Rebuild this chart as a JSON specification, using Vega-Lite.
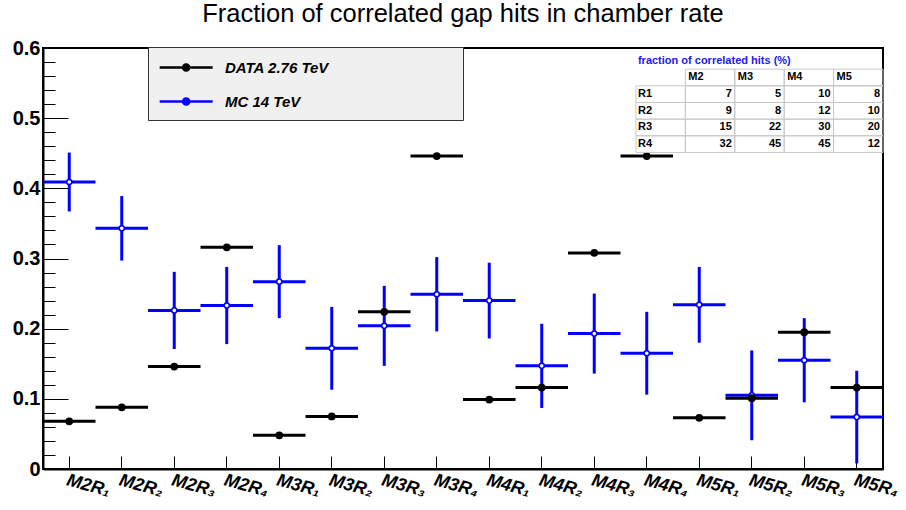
{
  "$schema": "https://vega.github.io/schema/vega-lite/v6.json",
  "width": 840,
  "height": 421,
  "autosize": {"type": "none"},
  "padding": {"left": 43, "top": 48, "right": 23, "bottom": 41},
  "background": "white",
  "title": {"text": "Fraction of correlated gap hits in chamber rate", "font": "Liberation Sans", "fontSize": 25.5, "fontWeight": "normal", "color": "#000000", "anchor": "middle", "baseline": "bottom", "offset": 20, "dy": 34},
  "config": {
    "font": "Liberation Sans",
    "view": {"stroke": "#000000", "strokeWidth": 2}
  },
  "datasets": {
    "meas": [
      {"bin": "M2R1", "data": 0.068, "mc": 0.409, "err": 0.042},
      {"bin": "M2R2", "data": 0.088, "mc": 0.343, "err": 0.046},
      {"bin": "M2R3", "data": 0.146, "mc": 0.226, "err": 0.055},
      {"bin": "M2R4", "data": 0.316, "mc": 0.233, "err": 0.055},
      {"bin": "M3R1", "data": 0.048, "mc": 0.267, "err": 0.052},
      {"bin": "M3R2", "data": 0.075, "mc": 0.172, "err": 0.059},
      {"bin": "M3R3", "data": 0.224, "mc": 0.204, "err": 0.057},
      {"bin": "M3R4", "data": 0.446, "mc": 0.249, "err": 0.053},
      {"bin": "M4R1", "data": 0.099, "mc": 0.240, "err": 0.054},
      {"bin": "M4R2", "data": 0.116, "mc": 0.147, "err": 0.060},
      {"bin": "M4R3", "data": 0.308, "mc": 0.193, "err": 0.057},
      {"bin": "M4R4", "data": 0.446, "mc": 0.165, "err": 0.059},
      {"bin": "M5R1", "data": 0.073, "mc": 0.234, "err": 0.054},
      {"bin": "M5R2", "data": 0.101, "mc": 0.105, "err": 0.064},
      {"bin": "M5R3", "data": 0.195, "mc": 0.155, "err": 0.060},
      {"bin": "M5R4", "data": 0.116, "mc": 0.074, "err": 0.066}
    ],
    "table": [
      {"row": "R1", "col": "M2", "pct": 7}, {"row": "R1", "col": "M3", "pct": 5}, {"row": "R1", "col": "M4", "pct": 10}, {"row": "R1", "col": "M5", "pct": 8},
      {"row": "R2", "col": "M2", "pct": 9}, {"row": "R2", "col": "M3", "pct": 8}, {"row": "R2", "col": "M4", "pct": 12}, {"row": "R2", "col": "M5", "pct": 10},
      {"row": "R3", "col": "M2", "pct": 15}, {"row": "R3", "col": "M3", "pct": 22}, {"row": "R3", "col": "M4", "pct": 30}, {"row": "R3", "col": "M5", "pct": 20},
      {"row": "R4", "col": "M2", "pct": 32}, {"row": "R4", "col": "M3", "pct": 45}, {"row": "R4", "col": "M4", "pct": 45}, {"row": "R4", "col": "M5", "pct": 12}
    ],
    "cols": [{"col": "M2"}, {"col": "M3"}, {"col": "M4"}, {"col": "M5"}],
    "rows": [{"row": "R1"}, {"row": "R2"}, {"row": "R3"}, {"row": "R4"}],
    "ttl": [{"t": "fraction of correlated hits (%)"}]
  },
  "layer": [
    {
      "data": {"name": "meas"},
      "layer": [
        {
          "mark": {"type": "errorbar", "ticks": false, "thickness": 3},
          "encoding": {
            "x": {"field": "bin", "type": "nominal", "sort": null, "scale": {"type": "band", "paddingInner": 0, "paddingOuter": 0}},
            "y": {"field": "mc", "type": "quantitative", "scale": {"domain": [0, 0.6], "nice": false},
              "axis": {"orient": "left", "title": null, "labels": false, "domain": false, "grid": false, "tickSize": -12, "tickColor": "#000000", "tickWidth": 1,
                "values": [0.02, 0.04, 0.06, 0.08, 0.12, 0.14, 0.16, 0.18, 0.22, 0.24, 0.26, 0.28, 0.32, 0.34, 0.36, 0.38, 0.42, 0.44, 0.46, 0.48, 0.52, 0.54, 0.56, 0.58]}},
            "yError": {"field": "err"},
            "color": {"datum": "MC 14 TeV"}
          }
        },
        {
          "mark": {"type": "tick", "size": 52.5, "thickness": 3, "opacity": 1},
          "encoding": {
            "x": {"field": "bin", "type": "nominal", "sort": null},
            "y": {"field": "mc", "type": "quantitative", "axis": null},
            "color": {"datum": "MC 14 TeV"}
          }
        },
        {
          "mark": {"type": "point", "shape": "circle", "filled": false, "fill": "white", "size": 26, "strokeWidth": 1.5, "opacity": 1},
          "encoding": {
            "x": {"field": "bin", "type": "nominal", "sort": null},
            "y": {"field": "mc", "type": "quantitative", "axis": null},
            "color": {"datum": "MC 14 TeV"}
          }
        },
        {
          "mark": {"type": "tick", "size": 52.5, "thickness": 3, "opacity": 1},
          "encoding": {
            "x": {"field": "bin", "type": "nominal", "sort": null,
              "axis": {"title": null, "tickSize": -13, "tickColor": "#000000", "tickWidth": 1, "domainColor": "#000000", "domainWidth": 2,
                "labelAngle": 15, "labelAlign": "left", "labelBaseline": "top", "labelPadding": 15, "labelOverlap": false, "labelBound": false, "labelFlush": false,
                "labelFontSize": 18, "labelFontWeight": "bold", "labelFontStyle": "italic", "labelColor": "#000000",
                "labelExpr": "substring(datum.label, 0, 3) + ['\u2081', '\u2082', '\u2083', '\u2084'][toNumber(substring(datum.label, 3, 4)) - 1]"}},
            "y": {"field": "data", "type": "quantitative",
              "axis": {"orient": "left", "title": null, "grid": false, "values": [0, 0.1, 0.2, 0.3, 0.4, 0.5, 0.6], "format": ".1~f",
                "tickSize": -25, "tickColor": "#000000", "tickWidth": 1, "domainColor": "#000000", "domainWidth": 2,
                "labelPadding": 28, "labelFontSize": 20, "labelFontWeight": "bold", "labelColor": "#000000"}},
            "color": {"datum": "DATA 2.76 TeV"}
          }
        },
        {
          "mark": {"type": "point", "shape": "circle", "filled": true, "size": 60, "opacity": 1},
          "encoding": {
            "x": {"field": "bin", "type": "nominal", "sort": null},
            "y": {"field": "data", "type": "quantitative", "axis": null},
            "color": {"datum": "DATA 2.76 TeV",
              "scale": {"domain": ["DATA 2.76 TeV", "MC 14 TeV"], "range": ["#000000", "#0000ff"]},
              "legend": {"orient": "none", "legendX": 105, "legendY": -1, "title": null,
                "fillColor": "#f0f0f0", "strokeColor": "#333333", "padding": 10,
                "symbolType": "M-1,0L5,0M1.65,0A0.35,0.35,0,1,0,2.35,0A0.35,0.35,0,1,0,1.65,0ZM31.6,0",
                "symbolSize": 312, "symbolStrokeWidth": 2.5,
                "labelFont": "Liberation Sans", "labelFontSize": 15, "labelFontWeight": "bold", "labelFontStyle": "italic", "labelColor": "#000000",
                "labelOffset": 46, "rowPadding": 15, "labelLimit": 400,
                "encode": {"symbols": {"update": {
                  "fill": {"signal": "datum.value === 'MC 14 TeV' ? 'white' : 'black'"},
                  "stroke": {"signal": "datum.value === 'MC 14 TeV' ? '#0000ff' : 'black'"},
                  "opacity": {"value": 1}, "strokeOpacity": {"value": 1}, "fillOpacity": {"value": 1}}}}}
            }
          }
        }
      ],
      "resolve": {"axis": {"y": "independent"}}
    },
    {
      "layer": [
        {
          "data": {"name": "table"},
          "mark": {"type": "rect", "filled": false, "color": "#c8c8c8", "strokeWidth": 1},
          "encoding": {
            "x": {"field": "col", "type": "nominal", "axis": null, "scale": {"type": "band", "domain": ["_1", "_2", "_3", "_4", "_5", "_6", "_7", "_8", "_9", "_10", "_11", "_12", "lbl", "M2", "M3", "M4", "M5"], "paddingInner": 0, "paddingOuter": 0}},
            "y": {"field": "row", "type": "nominal", "axis": null, "scale": {"type": "band", "domain": ["ttl", "hdr", "R1", "R2", "R3", "R4", "_1", "_2", "_3", "_4", "_5", "_6", "_7", "_8", "_9", "_10", "_11", "_12", "_13", "_14", "_15", "_16", "_17", "_18", "_19"], "paddingInner": 0, "paddingOuter": 0.135, "align": 1}}
          }
        },
        {
          "data": {"name": "cols"},
          "mark": {"type": "rect", "filled": false, "color": "#c8c8c8", "strokeWidth": 1},
          "encoding": {
            "x": {"field": "col", "type": "nominal", "axis": null},
            "y": {"datum": "hdr", "type": "nominal", "axis": null}
          }
        },
        {
          "data": {"name": "rows"},
          "mark": {"type": "rect", "filled": false, "color": "#c8c8c8", "strokeWidth": 1},
          "encoding": {
            "x": {"datum": "lbl", "type": "nominal", "axis": null},
            "y": {"field": "row", "type": "nominal", "axis": null}
          }
        },
        {
          "data": {"name": "table"},
          "mark": {"type": "text", "align": "right", "baseline": "middle", "dx": -3, "fontSize": 11, "fontWeight": "bold", "color": "#000000"},
          "encoding": {
            "x": {"field": "col", "type": "nominal", "axis": null, "bandPosition": 1},
            "y": {"field": "row", "type": "nominal", "axis": null},
            "text": {"field": "pct"}
          }
        },
        {
          "data": {"name": "cols"},
          "mark": {"type": "text", "align": "left", "baseline": "middle", "dx": 3, "fontSize": 11, "fontWeight": "bold", "color": "#000000"},
          "encoding": {
            "x": {"field": "col", "type": "nominal", "axis": null, "bandPosition": 0},
            "y": {"datum": "hdr", "type": "nominal", "axis": null},
            "text": {"field": "col"}
          }
        },
        {
          "data": {"name": "rows"},
          "mark": {"type": "text", "align": "left", "baseline": "middle", "dx": 2, "fontSize": 11, "fontWeight": "bold", "color": "#000000"},
          "encoding": {
            "x": {"datum": "lbl", "type": "nominal", "axis": null, "bandPosition": 0},
            "y": {"field": "row", "type": "nominal", "axis": null},
            "text": {"field": "row"}
          }
        },
        {
          "data": {"name": "ttl"},
          "mark": {"type": "text", "align": "left", "baseline": "middle", "dx": 2, "fontSize": 11, "fontWeight": "bold", "color": "#1a1aee"},
          "encoding": {
            "x": {"datum": "lbl", "type": "nominal", "axis": null, "bandPosition": 0},
            "y": {"datum": "ttl", "type": "nominal", "axis": null},
            "text": {"field": "t"}
          }
        }
      ]
    }
  ],
  "resolve": {"scale": {"x": "independent", "y": "independent"}}
}
